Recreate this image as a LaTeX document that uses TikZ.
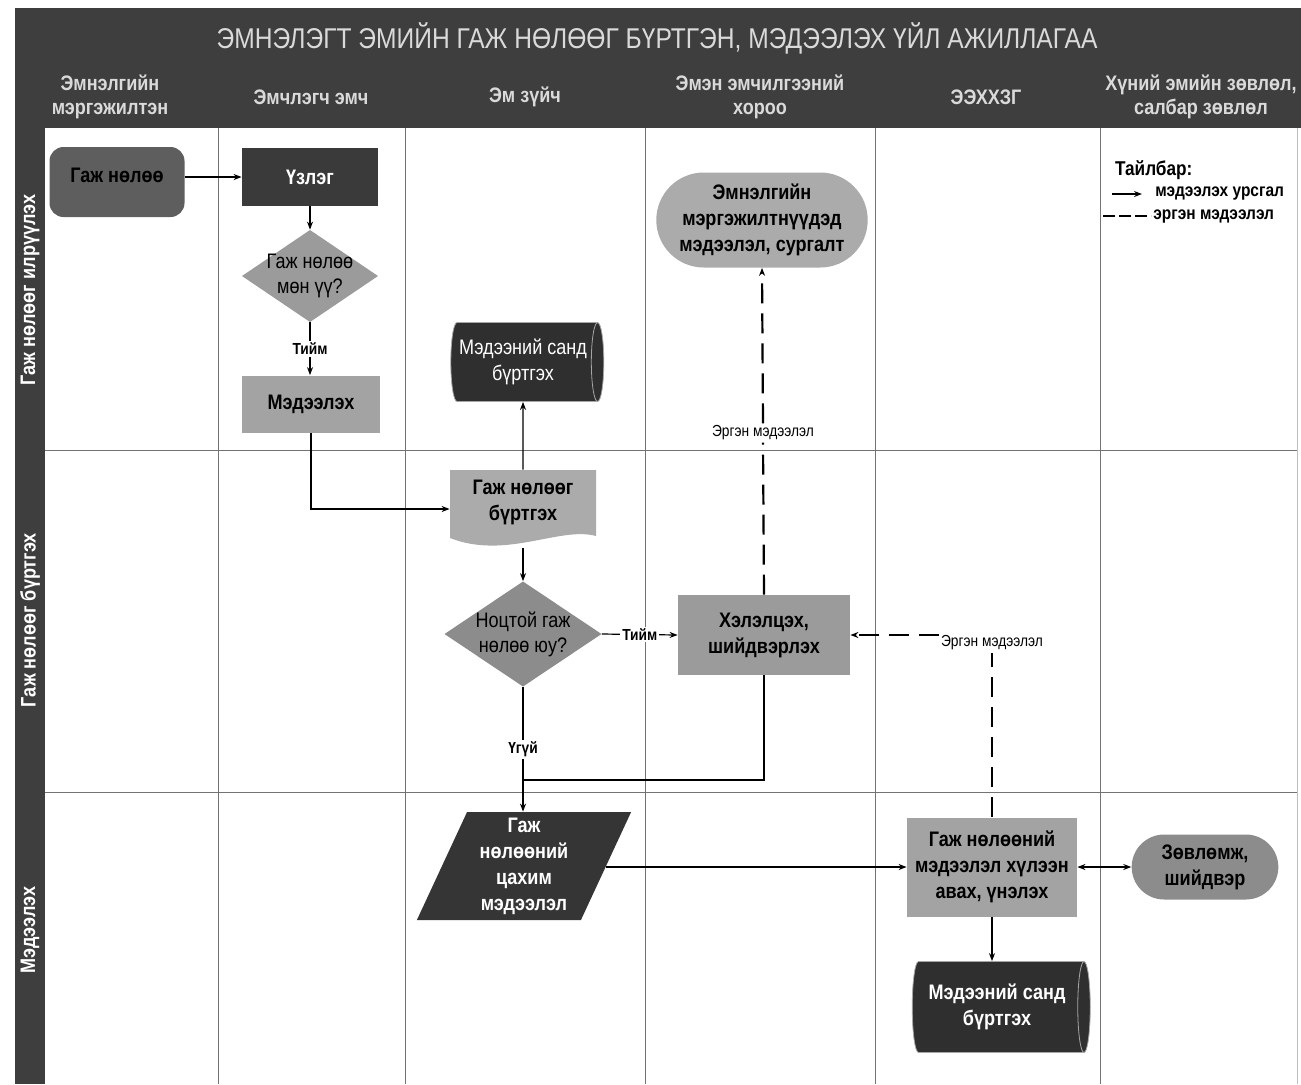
\documentclass[tikz,border=0pt]{standalone}
\usepackage{fontspec}
\setmainfont{Liberation Sans}[FakeStretch=0.86]
\usetikzlibrary{shapes.geometric, shapes.misc, arrows.meta}
\definecolor{hdrgray}{HTML}{3E3E3E}
\definecolor{hdrtext}{HTML}{DADADA}
\definecolor{gA}{HTML}{5E5E5E}
\definecolor{gB}{HTML}{3A3A3A}
\definecolor{gC}{HTML}{9B9B9B}
\definecolor{gD}{HTML}{A3A3A3}
\definecolor{gE}{HTML}{2F2F2F}
\definecolor{gF}{HTML}{8C8C8C}
\definecolor{gG}{HTML}{ABABAB}
\definecolor{gH}{HTML}{353535}

\begin{document}
\begin{tikzpicture}[x=0.5pt, y=-0.5pt,
  laneline/.style={draw=black!55, line width=0.5pt},
  colhead/.style={align=center, text=hdrtext, font=\bfseries\fontsize{10.5}{12}\selectfont},
  rowhead/.style={rotate=90, text=white, font=\bfseries\fontsize{10.5}{12}\selectfont},
  proc/.style={rectangle, align=center, inner sep=2pt, fill=#1, font=\bfseries\fontsize{10.5}{13}\selectfont},
  decide/.style={rectangle, align=center, inner sep=0pt, font=\fontsize{10.5}{12.5}\selectfont,
    path picture={\fill[#1] (path picture bounding box.north) -- (path picture bounding box.east)
      -- (path picture bounding box.south) -- (path picture bounding box.west) -- cycle;}},
  store/.style={cylinder, shape aspect=0.25, draw=black!35, line width=0.4pt, fill=#1, text=white,
    align=center, inner sep=1pt},
  pill/.style={rounded rectangle, align=center, fill=#1, font=\bfseries\fontsize{10.5}{13}\selectfont},
  flow/.style={-{Stealth[length=4pt, width=3pt]}, line width=0.6pt},
  link/.style={line width=0.6pt},
  fback/.style={line width=1.1pt, dash pattern=on 10pt off 5pt},
  edgelbl/.style={font=\bfseries\fontsize{8}{9}\selectfont, fill=white, inner sep=1pt},
  fbtext/.style={font=\fontsize{8}{9}\selectfont, fill=white, inner sep=1pt}]
\useasboundingbox (0,0) rectangle (1301,1084);
% header
\fill[hdrgray] (15,8) rectangle (1301,128);
\fill[hdrgray] (15,8) rectangle (45,1084);
\node[text=hdrtext, font=\fontsize{14.3}{17}\selectfont] (title) at (657,38)
  {ЭМНЭЛЭГТ ЭМИЙН ГАЖ НӨЛӨӨГ БҮРТГЭН, МЭДЭЭЛЭХ ҮЙЛ АЖИЛЛАГАА};
\node[colhead] (c1) at (110,97) {Эмнэлгийн\\мэргэжилтэн};
\node[colhead] (c2) at (311,97) {Эмчлэгч эмч};
\node[colhead] (c3) at (525,97) {Эм зүйч};
\node[colhead] (c4) at (760,97) {Эмэн эмчилгээний\\хороо};
\node[colhead] (c5) at (986,97) {ЭЭХХЗГ};
\node[colhead] (c6) at (1201,97) {Хүний эмийн зөвлөл,\\салбар зөвлөл};
% lanes
\foreach \x in {218,405,645,875,1100}
  \draw[laneline] (\x,128) -- (\x,1084);
\draw[laneline, draw=black!25] (1297,128) -- (1297,1084);
\foreach \y in {450,792}
  \draw[laneline] (45,\y) -- (1297,\y);
\node[rowhead] (r1) at (30,290) {Гаж нөлөөг илрүүлэх};
\node[rowhead] (r2) at (30,620) {Гаж нөлөөг бүртгэх};
\node[rowhead] (r3) at (30,930) {Мэдээлэх};
% legend
\node[anchor=west, font=\bfseries\fontsize{10}{12}\selectfont] (lg) at (1108,170) {Тайлбар:};
\coordinate (lgA) at (1112,194);
\coordinate (lgB) at (1142,194);
\coordinate (lgC) at (1103,216);
\coordinate (lgD) at (1151,216);
\draw[flow] (lgA) -- (lgB);
\draw[line width=1.4pt, dash pattern=on 6pt off 2pt] (lgC) -- (lgD);
\node[anchor=west, font=\bfseries\fontsize{9}{11}\selectfont, inner sep=1pt] (lg1) at (1153,194) {мэдээлэх урсгал};
\node[anchor=west, font=\bfseries\fontsize{9}{11}\selectfont, inner sep=1pt] (lg2) at (1151,216) {эргэн мэдээлэл};
% row 1
\node[proc=gA, rounded corners=7pt, minimum width=67.5pt, minimum height=35pt] (gn) at (117,182) {Гаж нөлөө\\[-6pt]};
\node[proc=gB, text=white, minimum width=68pt, minimum height=29pt] (uz) at (310,177) {Үзлэг};
\node[decide=gC, minimum width=68pt, minimum height=46pt] (d1) at (310,276) {Гаж нөлөө\\мөн үү?};
\node[proc=gD, minimum width=69pt, minimum height=28.5pt] (mdl) at (311,404) {Мэдээлэх};
\node[store=gE, minimum width=39.5pt, minimum height=76.5pt, font=\fontsize{10.5}{13}\selectfont] (db1) at (523,362) {Мэдээний санд\\бүртгэх};
\node[pill=gG, minimum width=92.5pt, minimum height=47.5pt] (edu) at (762,220) {Эмнэлгийн\\мэргэжилтнүүдэд\\мэдээлэл, сургалт};
% row 2
\node[rectangle, align=center, inner sep=0pt, minimum width=73pt, minimum height=39pt,
  font=\bfseries\fontsize{10.5}{13}\selectfont,
  path picture={\fill[gG] (path picture bounding box.north west) -- (path picture bounding box.north east)
    -- ([yshift=6pt]path picture bounding box.south east) .. controls +(-18pt,5pt) and +(28pt,-11pt)
    .. ([yshift=5pt]path picture bounding box.south west) -- cycle;}] (reg) at (523,509) {Гаж нөлөөг\\бүртгэх\\[-4pt]};
\node[decide=gF, minimum width=78.5pt, minimum height=52.5pt] (d2) at (523,634) {Ноцтой гаж\\нөлөө юу?};
\node[proc=gC, minimum width=86pt, minimum height=40pt] (xel) at (764,635) {Хэлэлцэх,\\шийдвэрлэх};
\node[fbtext] (fbA) at (763,433) {Эргэн мэдээлэл};
\node[fbtext] (fbB) at (992,643) {Эргэн мэдээлэл};
\coordinate (jn) at (523,780);
% row 3
\node[trapezium, trapezium left angle=68, trapezium right angle=112, trapezium stretches=true,
  fill=gH, text=white, align=center, inner sep=0pt, minimum width=108pt, minimum height=54pt,
  font=\bfseries\fontsize{10.5}{13}\selectfont] (par) at (524,866) {Гаж\\нөлөөний\\цахим\\мэдээлэл};
\node[proc=gD, minimum width=85pt, minimum height=49.5pt] (evl) at (992,867) {Гаж нөлөөний\\мэдээлэл хүлээн\\авах, үнэлэх};
\node[pill=gF, minimum width=80pt, minimum height=32.5pt] (adv) at (1205,867) {Зөвлөмж,\\шийдвэр};
\node[store=gE, minimum width=45.5pt, minimum height=89pt, font=\bfseries\fontsize{10.5}{13}\selectfont] (db2) at (997,1007) {Мэдээний санд\\бүртгэх};
% arrows
\draw[flow] (gn.east |- uz.west) -- (uz.west);
\draw[flow] (uz.south) -- (d1.north);
\draw[flow] (d1.south) -- node[edgelbl] {Тийм} (mdl.north -| d1.south);
\draw[flow] (mdl.south) |- (reg.west);
\draw[flow] (reg.north) -- (db1.south);
\draw[flow] (reg.south) -- (d2.north);
\draw[flow] (d2.east) -- node[edgelbl] {Тийм} (xel.west);
\draw[flow] (d2.south) -- node[edgelbl, pos=0.5] {Үгүй} (d2.south |- par.north);
\draw[link] (xel.south) |- (jn);
\draw[flow] (par.east |- evl.west) -- (evl.west);
\draw[{Stealth[length=4pt, width=3pt]}-{Stealth[length=4pt, width=3pt]}, line width=0.6pt] (evl.east) -- (adv.west);
\draw[flow] (evl.south) -- (evl.south |- db2.north);
% feedback
\draw[fback] (xel.north) -- (fbA.south);
\draw[fback, -{Stealth[length=4pt, width=3pt]}] (fbA.north) -- (edu.south);
\draw[fback] (evl.north) -- (fbB.south);
\draw[fback, -{Stealth[length=4pt, width=3pt]}] (fbB.west |- xel.east) -- (xel.east);
\end{tikzpicture}
\end{document}
